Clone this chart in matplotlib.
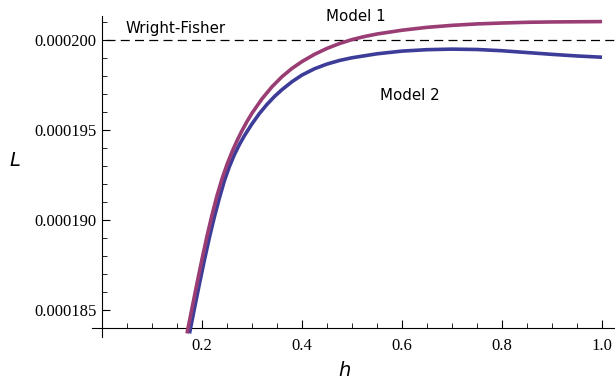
import numpy as np
import matplotlib
matplotlib.use("Agg")
import matplotlib.pyplot as plt
from matplotlib.ticker import FixedLocator

# ---- data; L = 0.0002 + d * 1e-6 ----
h_model1 = [0.170, 0.180, 0.190, 0.200, 0.210, 0.220, 0.230, 0.240, 0.250, 0.260,
            0.270, 0.280, 0.290, 0.300, 0.320, 0.340, 0.360, 0.380, 0.400, 0.425,
            0.450, 0.475, 0.500, 0.525, 0.550, 0.600, 0.650, 0.700, 0.750, 0.800,
            0.850, 0.900, 0.950, 1.000]
d_model1 = [-16.3, -14.9, -13.52, -12.18, -10.9, -9.72, -8.65, -7.72, -6.92, -6.22,
            -5.60, -5.04, -4.53, -4.07, -3.27, -2.60, -2.04, -1.58, -1.20, -0.80,
            -0.47, -0.20, 0.02, 0.19, 0.33, 0.54, 0.70, 0.81, 0.89, 0.94,
            0.98, 1.00, 1.01, 1.02]
h_model2 = [0.175, 0.185, 0.195, 0.205, 0.215, 0.225, 0.235, 0.245, 0.255, 0.265,
            0.275, 0.285, 0.300, 0.315, 0.330, 0.345, 0.360, 0.380, 0.400, 0.425,
            0.450, 0.475, 0.500, 0.550, 0.600, 0.650, 0.700, 0.750, 0.800, 0.850,
            0.900, 0.950, 1.000]
d_model2 = [-16.3, -14.9, -13.53, -12.2, -10.95, -9.8, -8.76, -7.80, -7.02, -6.36,
            -5.80, -5.31, -4.66, -4.08, -3.58, -3.14, -2.76, -2.32, -1.95, -1.60,
            -1.34, -1.14, -0.99, -0.77, -0.62, -0.54, -0.51, -0.53, -0.60, -0.70,
            -0.80, -0.89, -0.96]
wright_fisher = 0.000200
L_model1 = [0.0002 + d * 1e-6 for d in d_model1]
L_model2 = [0.0002 + d * 1e-6 for d in d_model2]

x_major = [0.2, 0.4, 0.6, 0.8, 1.0]
x_labels = ["0.2", "0.4", "0.6", "0.8", "1.0"]
y_major = [0.000185, 0.000190, 0.000195, 0.000200]
y_labels = ["0.000185", "0.000190", "0.000195", "0.000200"]

c1 = "#993d74"
c2 = "#3d3d99"

W, H = 615, 381
fig = plt.figure(figsize=(W / 100, H / 100), dpi=100)
left_px, right_px, top_px, bot_px = 92, 614.5, 16, 337
ax = fig.add_axes([left_px / W, 1 - bot_px / H, (right_px - left_px) / W, (bot_px - top_px) / H])
ax.set_xlim(-0.02, 1.025)
ax.set_ylim(0.0001835, 0.00020133)

ax.plot(h_model2, L_model2, color=c2, lw=2.6, solid_capstyle="butt",
        solid_joinstyle="round", zorder=3)
ax.plot(h_model1, L_model1, color=c1, lw=2.6, solid_capstyle="butt",
        solid_joinstyle="round", zorder=4)
ax.plot([0.008, 1.025], [wright_fisher, wright_fisher], color="black", lw=0.9,
        dashes=(7.2, 4.2), zorder=2)

for s in ["top", "right"]:
    ax.spines[s].set_visible(False)
ax.spines["left"].set_position(("data", 0))
ax.spines["bottom"].set_position(("data", 0.000184))
for s in ["left", "bottom"]:
    ax.spines[s].set_linewidth(0.8)

ax.xaxis.set_major_locator(FixedLocator(x_major))
ax.set_xticklabels(x_labels)
ax.xaxis.set_minor_locator(FixedLocator([v for v in np.arange(0.05, 1.001, 0.05)
                                         if min(abs(v - m) for m in x_major) > 1e-6]))
ax.yaxis.set_major_locator(FixedLocator(y_major))
ax.set_yticklabels(y_labels)
ax.yaxis.set_minor_locator(FixedLocator([v * 1e-6 for v in range(185, 202)
                                         if v % 5 != 0]))

serif = ["Liberation Serif", "DejaVu Serif"]
ax.tick_params(axis="both", which="major", direction="in", length=6, width=0.8,
               labelsize=12, pad=4)
ax.tick_params(axis="both", which="minor", direction="in", length=3.5, width=0.6)
ax.tick_params(axis="x", which="major", pad=7)
for lab in ax.get_xticklabels() + ax.get_yticklabels():
    lab.set_fontfamily(serif)

fs = 10.8
ax.text(0.048, 0.0002 + 0.37e-6, "Wright-Fisher", fontsize=fs, ha="left", va="baseline",
        family="DejaVu Sans", clip_on=False)
ax.text(0.449, 0.0002 + 1.07e-6, "Model 1", fontsize=fs, ha="left", va="baseline",
        family="DejaVu Sans", clip_on=False)
ax.text(0.556, 0.0002 - 3.33e-6, "Model 2", fontsize=fs, ha="left", va="baseline",
        family="DejaVu Sans", clip_on=False)

fig.text(15 / W, 1 - 160 / H, "L", fontsize=14, style="italic", ha="center", va="center",
         family="DejaVu Sans")
fig.text(344.5 / W, 1 - 370.5 / H, "h", fontsize=14, style="italic", ha="center", va="center",
         family="DejaVu Sans")

fig.savefig("out.png", dpi=100)
